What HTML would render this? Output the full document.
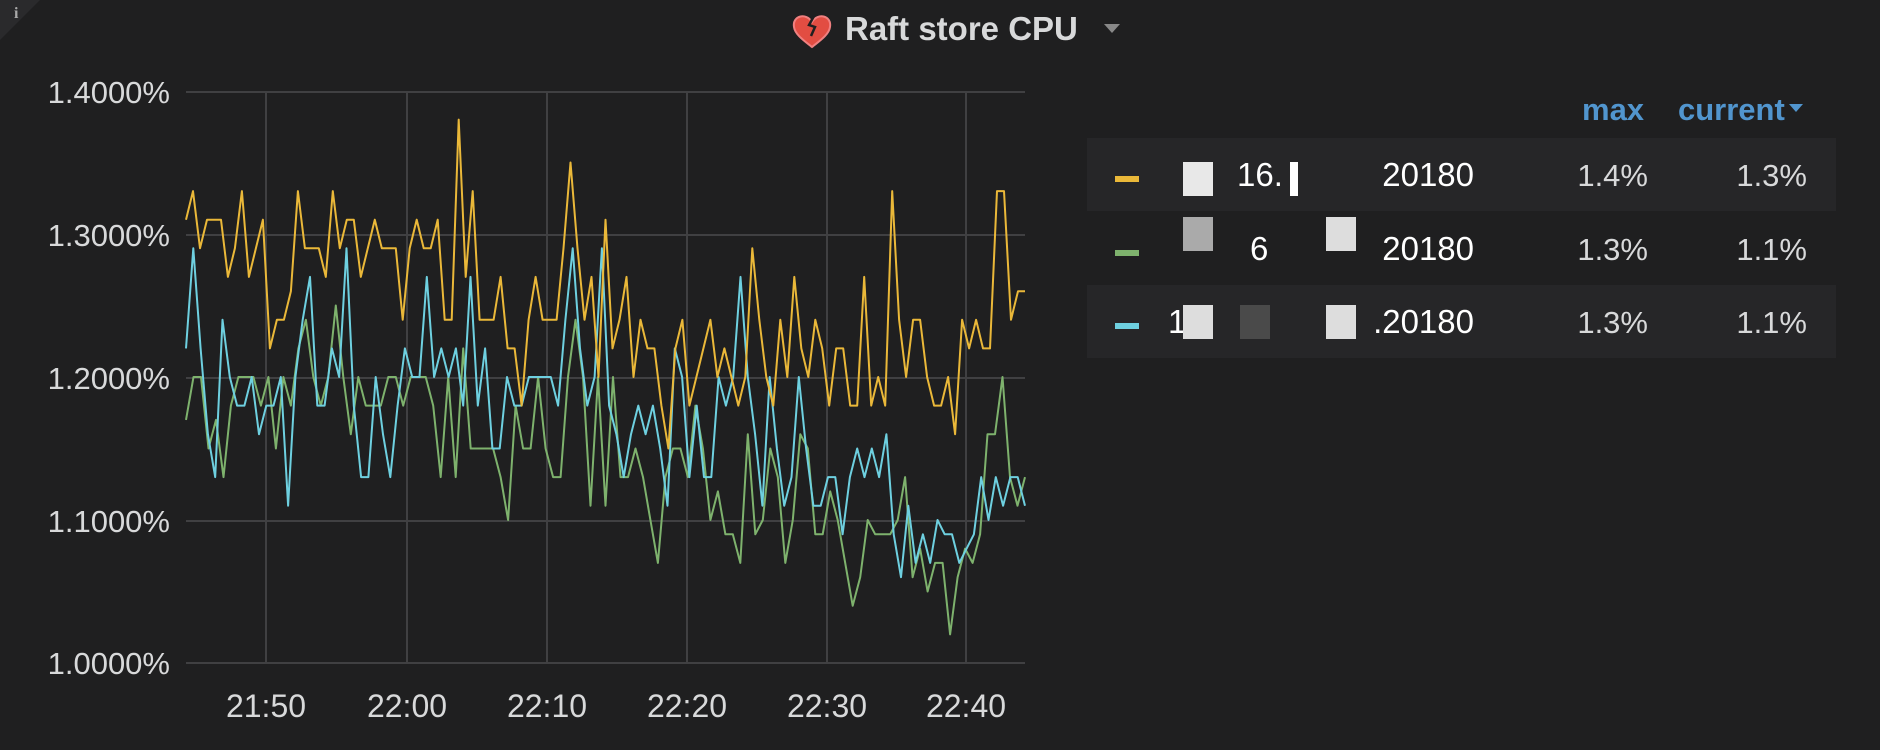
<!DOCTYPE html>
<html><head><meta charset="utf-8"><style>
html,body{margin:0;padding:0;background:#1f1f20;width:1880px;height:750px;overflow:hidden;font-family:"Liberation Sans",sans-serif}
svg{position:absolute;left:0;top:0}
</style></head><body>
<svg id="s" width="1880" height="750" xmlns="http://www.w3.org/2000/svg">
<polygon points="0,0 40,0 0,40" fill="#2a2a2c"/>
<text x="14" y="18" fill="#aaa" font-size="16" font-weight="bold" font-family="Liberation Serif">i</text>
<g stroke="#404042" stroke-width="2">
<line x1="186" y1="92" x2="1025" y2="92"/><line x1="186" y1="235" x2="1025" y2="235"/>
<line x1="186" y1="378" x2="1025" y2="378"/><line x1="186" y1="521" x2="1025" y2="521"/>
<line x1="186" y1="663" x2="1025" y2="663"/>
<line x1="266" y1="92" x2="266" y2="663"/><line x1="407" y1="92" x2="407" y2="663"/>
<line x1="547" y1="92" x2="547" y2="663"/><line x1="687" y1="92" x2="687" y2="663"/>
<line x1="827" y1="92" x2="827" y2="663"/><line x1="966" y1="92" x2="966" y2="663"/>
</g>
<g fill="#d8d9da" font-size="31" text-anchor="end">
<text x="170" y="103">1.4000%</text><text x="170" y="246">1.3000%</text>
<text x="170" y="389">1.2000%</text><text x="170" y="532">1.1000%</text>
<text x="170" y="674">1.0000%</text>
</g>
<g fill="#d8d9da" font-size="32" text-anchor="middle">
<text x="266" y="717">21:50</text><text x="407" y="717">22:00</text><text x="547" y="717">22:10</text>
<text x="687" y="717">22:20</text><text x="827" y="717">22:30</text><text x="966" y="717">22:40</text>
</g>
<path d="M812,22 c-6,-10 -20,-6 -18,5 c1,8 12,15 18,20 c6,-5 17,-12 18,-20 c2,-11 -12,-15 -18,-5z" fill="#e24d42" stroke="#f08080" stroke-width="2"/>
<path d="M814,16 l-5,9 l6,2 l-4,9" stroke="#1f1f20" stroke-width="2.5" fill="none"/>
<text x="845" y="40" fill="#d8d9da" font-size="33" font-weight="bold">Raft store CPU</text>
<polygon points="1104,24 1120,24 1112,33" fill="#888"/>
<g fill="#5195ce" font-size="31" font-weight="bold">
<text x="1582" y="120">max</text><text x="1678" y="120">current</text>
</g>
<polygon points="1789,104 1803,104 1796,112" fill="#5195ce"/>
<rect x="1087" y="138" width="749" height="73" fill="#262628"/>
<rect x="1087" y="285" width="749" height="73" fill="#262628"/>
<rect x="1115" y="176" width="24" height="6" fill="#eab839"/>
<rect x="1115" y="250" width="24" height="6" fill="#7eb26d"/>
<rect x="1115" y="323" width="24" height="6" fill="#6ed0e0"/>
<g fill="#ffffff" font-size="33">
<text x="1237" y="186">16.</text><text x="1474" y="186" text-anchor="end">20180</text>
<text x="1250" y="260">6</text><text x="1474" y="260" text-anchor="end">20180</text>
<text x="1168" y="333">1</text><text x="1474" y="333" text-anchor="end">.20180</text>
</g>
<rect x="1183" y="162" width="30" height="34" fill="#e8e8e8"/>
<rect x="1183" y="217" width="30" height="34" fill="#aaa"/>
<rect x="1326" y="217" width="30" height="34" fill="#ddd"/>
<rect x="1240" y="305" width="30" height="34" fill="#4a4a4a"/>
<rect x="1326" y="305" width="30" height="34" fill="#ddd"/>
<rect x="1183" y="305" width="30" height="34" fill="#ddd"/>
<rect x="1290" y="162" width="8" height="34" fill="#fff"/>
<g fill="#d8d9da" font-size="31" text-anchor="end">
<text x="1648" y="186">1.4%</text><text x="1807" y="186">1.3%</text>
<text x="1648" y="260">1.3%</text><text x="1807" y="260">1.1%</text>
<text x="1648" y="333">1.3%</text><text x="1807" y="333">1.1%</text>
</g>
<g id="lines" fill="none" stroke-width="2" stroke-linejoin="round"></g>
</svg>
<script>
var Y=[1.31,1.33,1.29,1.31,1.31,1.31,1.27,1.29,1.33,1.27,1.29,1.31,1.22,1.24,1.24,1.26,1.33,1.29,1.29,1.29,1.27,1.33,1.29,1.31,1.31,1.27,1.29,1.31,1.29,1.29,1.29,1.24,1.29,1.31,1.29,1.29,1.31,1.24,1.24,1.38,1.27,1.33,1.24,1.24,1.24,1.27,1.22,1.22,1.18,1.24,1.27,1.24,1.24,1.24,1.29,1.35,1.29,1.24,1.27,1.20,1.31,1.22,1.24,1.27,1.20,1.24,1.22,1.22,1.18,1.15,1.22,1.24,1.18,1.20,1.22,1.24,1.20,1.22,1.20,1.18,1.20,1.29,1.24,1.20,1.18,1.24,1.20,1.27,1.22,1.20,1.24,1.22,1.18,1.22,1.22,1.18,1.18,1.27,1.18,1.20,1.18,1.33,1.24,1.20,1.24,1.24,1.20,1.18,1.18,1.20,1.16,1.24,1.22,1.24,1.22,1.22,1.33,1.33,1.24,1.26,1.26];
var G=[1.17,1.2,1.2,1.15,1.17,1.13,1.18,1.2,1.2,1.2,1.18,1.2,1.15,1.2,1.18,1.22,1.24,1.2,1.18,1.2,1.25,1.2,1.16,1.2,1.18,1.18,1.18,1.2,1.2,1.18,1.2,1.2,1.2,1.18,1.13,1.2,1.13,1.22,1.15,1.15,1.15,1.15,1.13,1.1,1.18,1.15,1.15,1.2,1.15,1.13,1.13,1.2,1.24,1.2,1.11,1.2,1.11,1.2,1.13,1.13,1.15,1.13,1.1,1.07,1.13,1.15,1.15,1.13,1.18,1.15,1.1,1.12,1.09,1.09,1.07,1.16,1.09,1.1,1.15,1.13,1.07,1.1,1.16,1.15,1.09,1.09,1.12,1.1,1.07,1.04,1.06,1.1,1.09,1.09,1.09,1.1,1.13,1.06,1.08,1.05,1.07,1.07,1.02,1.06,1.08,1.07,1.09,1.16,1.16,1.2,1.13,1.11,1.13];
var B=[1.22,1.29,1.22,1.16,1.13,1.24,1.2,1.18,1.18,1.2,1.16,1.18,1.18,1.2,1.11,1.2,1.24,1.27,1.18,1.18,1.22,1.2,1.29,1.18,1.13,1.13,1.2,1.16,1.13,1.18,1.22,1.2,1.2,1.27,1.2,1.22,1.2,1.22,1.18,1.27,1.18,1.22,1.15,1.15,1.2,1.18,1.18,1.2,1.2,1.2,1.2,1.18,1.24,1.29,1.22,1.18,1.2,1.29,1.18,1.16,1.13,1.16,1.18,1.16,1.18,1.15,1.11,1.22,1.2,1.13,1.18,1.13,1.13,1.2,1.18,1.2,1.27,1.2,1.16,1.11,1.2,1.15,1.11,1.13,1.2,1.15,1.11,1.11,1.13,1.13,1.09,1.13,1.15,1.13,1.15,1.13,1.16,1.09,1.06,1.11,1.07,1.09,1.07,1.1,1.09,1.09,1.07,1.08,1.09,1.13,1.1,1.13,1.11,1.13,1.13,1.11];
var g=document.getElementById('lines');
[[G,'#7eb26d'],[B,'#6ed0e0'],[Y,'#eab839']].forEach(function(p){
 var d=p[0],n=d.length,pts=[];
 for(var i=0;i<n;i++){pts.push((186+i*(839/(n-1))).toFixed(1)+','+(663-(d[i]-1)*1430).toFixed(1));}
 var e=document.createElementNS('http://www.w3.org/2000/svg','polyline');
 e.setAttribute('points',pts.join(' '));e.setAttribute('stroke',p[1]);g.appendChild(e);
});
</script>
</body></html>
